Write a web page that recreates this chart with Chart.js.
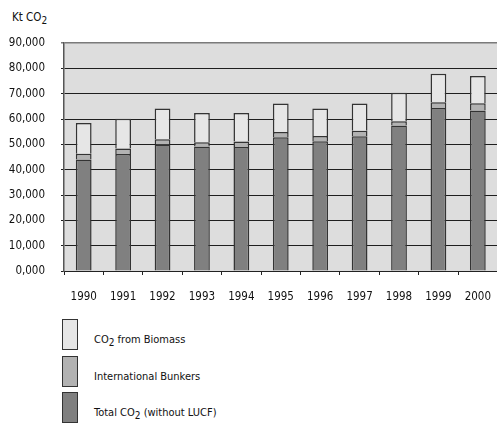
<!DOCTYPE html>
<html>
<head>
<meta charset="utf-8">
<script src="https://cdn.jsdelivr.net/npm/chart.js@4/dist/chart.umd.min.js"></script>
<style>
  body { margin: 0; overflow: hidden; background: #fff; width: 497px; height: 423px; position: relative;
         font-family: "DejaVu Sans Condensed", "Liberation Sans", sans-serif; color: #111; }
  #unit { position: absolute; left: 12px; top: 10px; font-size: 11.5px; }
  #wrap { position: absolute; left: 0; top: 0; width: 506px; height: 305px; }
  .row { position: absolute; left: 62px; height: 32px; }
  .box { position: absolute; left: 0; top: 0; width: 14px; height: 29px; border: 1.5px solid #333; }
  .lab { position: absolute; left: 32px; top: 14px; white-space: nowrap; font-size: 11px; line-height: 13px; }
  sub { font-size: 10px; vertical-align: -3px; line-height: 0; }
</style>
</head>
<body>
<div id="unit">Kt CO<sub>2</sub></div>
<div id="wrap"><canvas id="theChart"></canvas></div>
<div class="row" style="top:319px"><div class="box" style="background:#e6e6e6"></div><div class="lab">CO<sub>2</sub> from Biomass</div></div>
<div class="row" style="top:356px"><div class="box" style="background:#b2b2b2"></div><div class="lab">International Bunkers</div></div>
<div class="row" style="top:392px"><div class="box" style="background:#808080"></div><div class="lab">Total CO<sub>2</sub> (without LUCF)</div></div>
<script>
const years = ['1990','1991','1992','1993','1994','1995','1996','1997','1998','1999','2000'];
const totalCO2 = [44000, 46200, 49900, 49100, 48900, 52800, 51200, 53200, 57400, 64300, 63400];
const bunkers = [2300, 2200, 2100, 1700, 2200, 2100, 2100, 2200, 1700, 2300, 2800];
const biomass = [12100, 11700, 12100, 11600, 11300, 11200, 10800, 10700, 11300, 11300, 10800];
const yTicks = [0, 10000, 20000, 30000, 40000, 50000, 60000, 70000, 80000, 90000];

const fontFam = '"DejaVu Sans Condensed", "Liberation Sans", sans-serif';

const plotBg = {
  id: 'plotBg',
  beforeDraw(c) {
    const a = c.chartArea, ctx = c.ctx;
    ctx.save();
    ctx.fillStyle = '#dddddd';
    ctx.fillRect(a.left, a.top, a.right - a.left, a.bottom - a.top);
    ctx.restore();
  }
};

function bar(label, data, color) {
  return {
    label: label,
    data: data,
    backgroundColor: color,
    borderColor: '#333',
    borderWidth: 1.5,
    barPercentage: 0.4,
    categoryPercentage: 1
  };
}

const chart = document.getElementById('theChart').getContext('2d');
new Chart(chart, {
  type: 'bar',
  data: {
    labels: years,
    datasets: [
      bar('Total CO2 (without LUCF)', totalCO2, '#808080'),
      bar('International Bunkers', bunkers, '#b2b2b2'),
      bar('CO2 from Biomass', biomass, '#e6e6e6')
    ]
  },
  options: {
    responsive: true,
    maintainAspectRatio: false,
    animation: false,
    layout: { padding: { top: 43, right: 0, left: 0, bottom: 0 } },
    plugins: { legend: { display: false }, tooltip: { enabled: false } },
    scales: {
      x: {
        stacked: true,
        afterFit: s => { s.height = 34; },
        grid: { offset: true, drawOnChartArea: false, drawTicks: true, tickLength: 4, color: '#222' },
        border: { color: '#222', width: 1 },
        ticks: { color: '#111', padding: 15, font: { family: fontFam, size: 11.5 }, maxRotation: 0 }
      },
      y: {
        stacked: true,
        min: 0,
        max: 90000,
        afterFit: s => { s.width = 64; },
        afterBuildTicks: s => { s.ticks = yTicks.map(v => ({ value: v })); },
        grid: {
          color: c => c.tick && c.tick.value === 90000 ? '#7a7a7a' : '#1e1e1e',
          lineWidth: c => c.tick && c.tick.value === 90000 ? 1.5 : 1,
          tickLength: 3
        },
        border: { color: '#555', width: 1.5 },
        ticks: {
          color: '#111',
          padding: 16,
          font: { family: fontFam, size: 11.5 },
          callback: v => (v / 1000).toFixed(0) + ',000'
        }
      }
    }
  },
  plugins: [plotBg]
});
</script>
</body>
</html>
